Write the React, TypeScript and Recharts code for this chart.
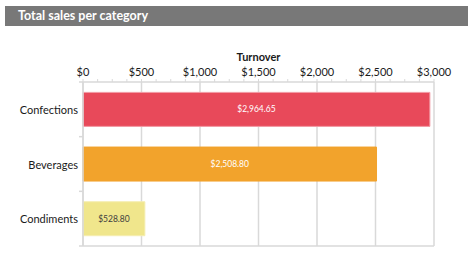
import React from "react";
import { BarChart, Bar, XAxis, YAxis, CartesianGrid, LabelList, Cell } from "recharts";

// data
const categories = ["Confections", "Beverages", "Condiments"];
const turnover = [2964.65, 2508.8, 528.8];
const majorTicks = [0, 500, 1000, 1500, 2000, 2500, 3000];

const barFill = ["#e8495a", "#f2a32c", "#f0e68c"];
const barStroke = ["#f29aa4", "#f2a32c", "#f5eeb0"];
const labelFill = ["#ffffff", "#ffffff", "#404040"];

const gridColor = "#d9d9d9";
const font = "Lato, 'Open Sans', sans-serif";

// minor ticks every quarter step, labels only on the major ones
const step = majorTicks[1] - majorTicks[0];
const allTicks = majorTicks.flatMap((t, i) =>
  i === majorTicks.length - 1 ? [t] : [t, t + step / 4, t + step / 2, t + (3 * step) / 4]
);

const data = categories.map((name, i) => ({ name, turnover: turnover[i] }));

const money = (v: number, dec = 0) =>
  "$" + v.toLocaleString("en-US", { minimumFractionDigits: dec, maximumFractionDigits: dec });

function CategoryTick(props: any) {
  const { x, y, payload, index, visibleTicksCount } = props;
  const half = payload?.offset ?? 0;
  const ax = x + 5; // axis line position
  return (
    <g>
      <text x={x} y={y} textAnchor="end" dominantBaseline="central" fontSize={11} fill="#1a1a1a" fontFamily={font}>
        {payload.value}
      </text>
      <line x1={ax - 4} x2={ax} y1={y - half} y2={y - half} stroke={gridColor} strokeWidth={1.5} />
      {index === visibleTicksCount - 1 && (
        <line x1={ax - 4} x2={ax} y1={y + half} y2={y + half} stroke={gridColor} strokeWidth={1.5} />
      )}
    </g>
  );
}

function BarValue(props: any) {
  const { x, y, width, height, value, index } = props;
  return (
    <text
      x={x + width / 2}
      y={y + height / 2}
      textAnchor="middle"
      dominantBaseline="central"
      fontSize={8.5}
      fill={labelFill[index] ?? "#fff"}
      fontFamily={font}
    >
      {money(value, 2)}
    </text>
  );
}

export default function App() {
  return (
    <div style={{ position: "absolute", left: 0, top: 0, width: 475, height: 260, background: "#fff" }}>
      <div
        style={{
          position: "absolute",
          left: 5,
          top: 6,
          width: 463,
          height: 20,
          background: "#787878",
          color: "#fff",
          fontFamily: font,
          fontWeight: 700,
          fontSize: 12.5,
          lineHeight: "20px",
          paddingLeft: 13,
          boxSizing: "border-box",
        }}
      >
        Total sales per category
      </div>
      <div style={{ position: "absolute", left: 0, top: 0 }}>
        <BarChart
          width={475}
          height={260}
          data={data}
          layout="vertical"
          margin={{ top: 44, right: 41, bottom: 14, left: 0 }}
          barCategoryGap="19%"
        >
          <CartesianGrid
            stroke={gridColor}
            strokeWidth={1.5}
            verticalValues={majorTicks}
            horizontalCoordinatesGenerator={({ offset }: any) => [offset.top + offset.height]}
          />
          <XAxis
            type="number"
            orientation="top"
            domain={[0, 3000]}
            ticks={allTicks}
            interval={0}
            height={38}
            tickSize={3}
            tickMargin={3}
            tickLine={{ stroke: gridColor }}
            axisLine={{ stroke: gridColor, strokeWidth: 1.5 }}
            tickFormatter={(v: number) => (v % step === 0 ? money(v) : "")}
            tick={{ fontSize: 11, fill: "#1a1a1a", fontFamily: font }}
            label={{
              value: "Turnover",
              position: "insideTop",
              offset: 9,
              fontSize: 11,
              fontWeight: 700,
              fill: "#1a1a1a",
              fontFamily: font,
            }}
          />
          <YAxis
            type="category"
            dataKey="name"
            width={83}
            tickLine={false}
            tickSize={0}
            tickMargin={5}
            axisLine={{ stroke: gridColor, strokeWidth: 1.5 }}
            tick={<CategoryTick />}
          />
          <Bar dataKey="turnover" isAnimationActive={false}>
            {data.map((d, i) => (
              <Cell key={d.name} fill={barFill[i]} stroke={barStroke[i]} strokeWidth={1} />
            ))}
            <LabelList dataKey="turnover" content={<BarValue />} />
          </Bar>
        </BarChart>
      </div>
    </div>
  );
}
